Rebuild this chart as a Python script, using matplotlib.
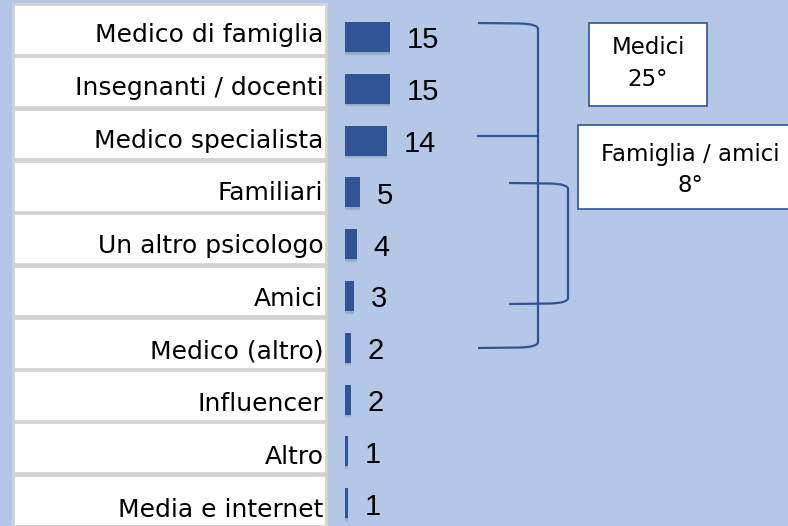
import matplotlib
matplotlib.use("Agg")
import matplotlib.pyplot as plt
from matplotlib.patches import Rectangle, PathPatch
from matplotlib.path import Path

categories = [
    "Medico di famiglia",
    "Insegnanti / docenti",
    "Medico specialista",
    "Familiari",
    "Un altro psicologo",
    "Amici",
    "Medico (altro)",
    "Influencer",
    "Altro",
    "Media e internet",
]
counts = [15, 15, 14, 5, 4, 3, 2, 2, 1, 1]

group_titles = ["Medici", "Famiglia / amici"]
group_shares = ["25°", "8°"]

BG = "#B4C7E7"
BAR = "#2F5597"
LABEL_FONT = "DejaVu Sans"
VALUE_FONT = "Liberation Sans"

W, H = 788, 526
BOX_TOP, BOX_PITCH = 4.0, 52.3       # label boxes (pixels)
TEXT_BASE, TEXT_PITCH = 42.3, 52.7   # label baselines (pixels)
BAR_C0, BAR_PITCH = 37.0, 51.8       # bar centres (pixels)
BAR_X0, PX_PER_UNIT = 345, 3.0

fig = plt.figure(figsize=(W / 100, H / 100), dpi=100)
fig.patch.set_facecolor(BG)

# bars: category index on y, count on x
ax = fig.add_axes([0, 0, 1, 1])
ax.set_facecolor("none")
ax.set_xlim(-BAR_X0 / PX_PER_UNIT, (W - BAR_X0) / PX_PER_UNIT)
ax.set_ylim((H - BAR_C0) / BAR_PITCH, -BAR_C0 / BAR_PITCH)
ax.axis("off")

ypos = list(range(len(categories)))
bar_h = 30 / BAR_PITCH

# soft drop shadow under each bar
for k, off in enumerate([0.03, 0.05, 0.07]):
    ax.barh([y + off for y in ypos], counts, height=bar_h, left=0.15,
            color="#3a3a3a", alpha=0.10 - 0.025 * k, linewidth=0, zorder=1)
ax.barh(ypos, counts, height=bar_h, color=BAR, linewidth=0, zorder=2)

for y, v in zip(ypos, counts):
    ax.text(v + 5.5, y + 0.22, str(v), ha="left", va="baseline",
            fontsize=21, family=VALUE_FONT, color="black", zorder=3)

# overlay in pixel units for label boxes, brackets and callouts
ov = fig.add_axes([0, 0, 1, 1])
ov.set_facecolor("none")
ov.set_xlim(0, W)
ov.set_ylim(H, 0)
ov.axis("off")

for i, cat in enumerate(categories):
    top = BOX_TOP + i * BOX_PITCH
    ov.add_patch(Rectangle((13, top), 313, BOX_PITCH - 1.5, facecolor="white",
                           edgecolor="#D3D3D3", linewidth=2.0, zorder=1))
    ov.text(323.5, TEXT_BASE + i * TEXT_PITCH, cat, ha="right", va="baseline",
            fontsize=18, family=LABEL_FONT, color="black", zorder=2)


def bracket(x0, x1, y0, y1, r=18):
    verts = [(x0, y0), (x1 - r, y0 + 0.5), (x1, y0 + 1), (x1, y0 + 6),
             (x1, y1 - 6), (x1, y1 - 1), (x1 - r, y1 - 0.5), (x0, y1)]
    codes = [Path.MOVETO, Path.LINETO, Path.CURVE3, Path.CURVE3,
             Path.LINETO, Path.CURVE3, Path.CURVE3, Path.LINETO]
    ov.add_patch(PathPatch(Path(verts, codes), facecolor="none",
                           edgecolor=BAR, linewidth=1.6, zorder=3))


bracket(478, 538, 23, 348)
ov.plot([478, 538], [136, 136], color=BAR, linewidth=1.6, zorder=3)
bracket(509, 568, 183, 304)

callouts = [
    (589, 23, 118, 83, 648, (48, 80)),
    (578, 125, 230, 84, 690, (155, 186)),
]
for (bx, by, bw, bh, cx, ly), title, share in zip(callouts, group_titles, group_shares):
    ov.add_patch(Rectangle((bx, by), bw, bh, facecolor="white", edgecolor=BAR,
                           linewidth=1.2, zorder=4))
    ov.text(cx, ly[0], title, ha="center", va="center", fontsize=16.5,
            family=LABEL_FONT, zorder=5)
    ov.text(cx, ly[1], share, ha="center", va="center", fontsize=16.5,
            family=LABEL_FONT, zorder=5)

fig.savefig("out.png", dpi=100, facecolor=BG)
